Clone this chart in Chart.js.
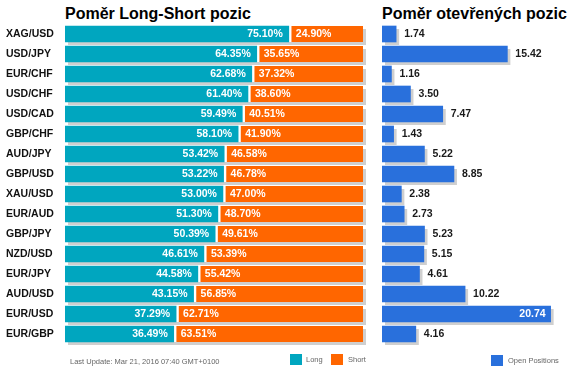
<!DOCTYPE html>
<html lang="cs">
<head>
    <meta charset="UTF-8">
    <title>Poměr Long-Short pozic</title>
    <script src="https://cdn.jsdelivr.net/npm/chart.js"></script>
    <style>
        body {
            margin: 0;
            background: #fff;
            font-family: Arial, "Liberation Sans", sans-serif;
        }
        .wrap {
            position: relative;
            width: 570px;
            height: 374px;
            overflow: hidden;
        }
        canvas {
            position: absolute;
            top: 0;
        }
        .title {
            position: absolute;
            top: 6px;
            font-weight: bold;
            font-size: 16px;
            line-height: 16px;
            color: #000;
            white-space: nowrap;
        }
        .small {
            position: absolute;
            font-size: 7.5px;
            line-height: 10px;
            color: #666;
            white-space: nowrap;
        }
        .swatch {
            position: absolute;
            width: 12px;
            height: 11px;
        }
    </style>
</head>
<body>
<div class="wrap">
    <div class="title" style="left:65px">Poměr Long-Short pozic</div>
    <div class="title" style="left:382px">Poměr otevřených pozic</div>

    <canvas id="ratioChart" width="372" height="374" style="left:0"></canvas>
    <canvas id="openChart" width="200" height="374" style="left:370px"></canvas>

    <!-- footer / legends -->
    <div class="small" style="left:70px;top:357px">Last Update: Mar 21, 2016 07:40 GMT+0100</div>
    <div class="swatch" style="left:290px;top:354px;background:#00a6bf"></div>
    <div class="small" style="left:306px;top:355px">Long</div>
    <div class="swatch" style="left:331px;top:354px;background:#ff6600"></div>
    <div class="small" style="left:348px;top:355px">Short</div>
    <div class="swatch" style="left:491px;top:355px;background:#2970dc"></div>
    <div class="small" style="left:508px;top:356px">Open Positions</div>
</div>

<script>
    // data
    const pairs = ['XAG/USD', 'USD/JPY', 'EUR/CHF', 'USD/CHF', 'USD/CAD', 'GBP/CHF', 'AUD/JPY', 'GBP/USD',
                   'XAU/USD', 'EUR/AUD', 'GBP/JPY', 'NZD/USD', 'EUR/JPY', 'AUD/USD', 'EUR/USD', 'EUR/GBP'];
    const longPct = [75.10, 64.35, 62.68, 61.40, 59.49, 58.10, 53.42, 53.22,
                     53.00, 51.30, 50.39, 46.61, 44.58, 43.15, 37.29, 36.49];
    const shortPct = [24.90, 35.65, 37.32, 38.60, 40.51, 41.90, 46.58, 46.78,
                      47.00, 48.70, 49.61, 53.39, 55.42, 56.85, 62.71, 63.51];
    const openPos = [1.74, 15.42, 1.16, 3.50, 7.47, 1.43, 5.22, 8.85,
                     2.38, 2.73, 5.23, 5.15, 4.61, 10.22, 20.74, 4.16];

    const TEAL = '#00a6bf';
    const ORANGE = '#ff6600';
    const BLUE = '#2970dc';
    const SHADOW = '#cfcfcf';
    const FONT = 'Arial, "Liberation Sans", sans-serif';

    // grey drop shadow behind each row (offset right/down)
    const shadowPlugin = {
        id: 'shadow',
        beforeDatasetsDraw(chart) {
            const ctx = chart.ctx;
            const xs = chart.scales.x;
            const first = chart.getDatasetMeta(0).data;
            const last = chart.getDatasetMeta(chart.data.datasets.length - 1).data;
            ctx.save();
            ctx.fillStyle = SHADOW;
            first.forEach((bar, i) => {
                const x0 = xs.getPixelForValue(0);
                const x1 = last[i].x;
                ctx.fillRect(x0 + 3, bar.y - bar.height / 2 + 3, x1 - x0, bar.height);
            });
            ctx.restore();
        }
    };

    // percentage labels inside long/short bars
    const pctLabels = {
        id: 'pctLabels',
        afterDatasetsDraw(chart) {
            const ctx = chart.ctx;
            ctx.save();
            ctx.font = 'bold 10.5px ' + FONT;
            ctx.fillStyle = '#fff';
            ctx.textBaseline = 'middle';
            chart.getDatasetMeta(0).data.forEach((bar, i) => {
                ctx.textAlign = 'right';
                ctx.fillText(longPct[i].toFixed(2) + '%', bar.x - 6, bar.y + 0.5);
            });
            chart.getDatasetMeta(1).data.forEach((bar, i) => {
                ctx.textAlign = 'left';
                ctx.fillText(shortPct[i].toFixed(2) + '%', bar.base + 7, bar.y + 0.5);
            });
            ctx.restore();
        }
    };

    // value labels for open positions: outside, or inside when no room
    const openLabels = {
        id: 'openLabels',
        afterDatasetsDraw(chart) {
            const ctx = chart.ctx;
            const right = chart.chartArea.right;
            ctx.save();
            ctx.font = 'bold 10.5px ' + FONT;
            ctx.textBaseline = 'middle';
            chart.getDatasetMeta(0).data.forEach((bar, i) => {
                const txt = openPos[i].toFixed(2);
                const w = ctx.measureText(txt).width;
                if (bar.x + 8 + w > right) {
                    ctx.fillStyle = '#fff';
                    ctx.textAlign = 'right';
                    ctx.fillText(txt, bar.x - 5, bar.y + 0.5);
                } else {
                    ctx.fillStyle = '#1a1a1a';
                    ctx.textAlign = 'left';
                    ctx.fillText(txt, bar.x + 8, bar.y + 0.5);
                }
            });
            ctx.restore();
        }
    };

    new Chart(document.getElementById('ratioChart'), {
        type: 'bar',
        data: {
            labels: pairs,
            datasets: [{
                label: 'Long',
                data: longPct,
                backgroundColor: TEAL,
                borderWidth: 0,
                barThickness: 16
            }, {
                label: 'Short',
                data: shortPct,
                backgroundColor: ORANGE,
                borderColor: '#fff',
                borderWidth: { left: 3, right: 0, top: 0, bottom: 0 },
                borderSkipped: false,
                barThickness: 16
            }]
        },
        options: {
            indexAxis: 'y',
            responsive: false,
            animation: false,
            layout: { padding: { left: 6, right: 9, top: 24, bottom: 30 } },
            plugins: { legend: { display: false }, tooltip: { enabled: false } },
            scales: {
                x: { stacked: true, min: 0, max: 100, display: false },
                y: {
                    stacked: true,
                    grid: { display: false },
                    border: { display: false },
                    ticks: {
                        crossAlign: 'far',
                        color: '#111',
                        font: { family: FONT, size: 10.5, weight: 'bold' }
                    },
                    afterFit(scale) { scale.width = 59; }
                }
            }
        },
        plugins: [shadowPlugin, pctLabels]
    });

    new Chart(document.getElementById('openChart'), {
        type: 'bar',
        data: {
            labels: pairs,
            datasets: [{
                label: 'Open Positions',
                data: openPos,
                backgroundColor: BLUE,
                borderWidth: 0,
                barThickness: 16
            }]
        },
        options: {
            indexAxis: 'y',
            responsive: false,
            animation: false,
            layout: { padding: { left: 12, right: 1, top: 24, bottom: 30 } },
            plugins: { legend: { display: false }, tooltip: { enabled: false } },
            scales: {
                x: { min: 0, max: 23, display: false },
                y: { display: false }
            }
        },
        plugins: [shadowPlugin, openLabels]
    });
</script>
</body>
</html>
